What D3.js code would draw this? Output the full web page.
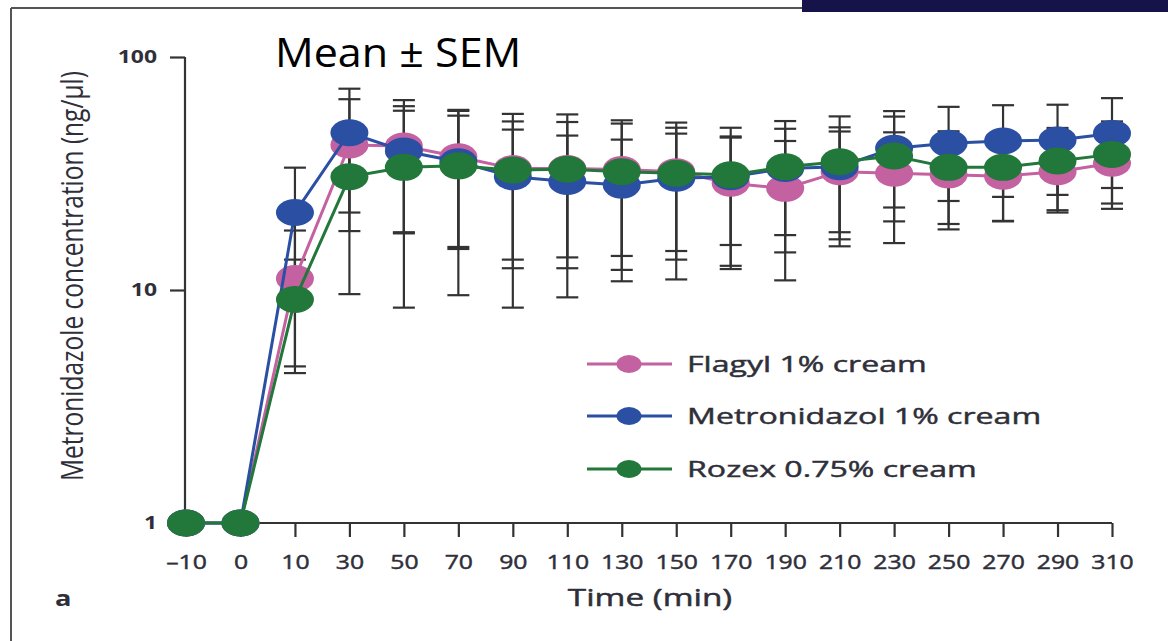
<!DOCTYPE html>
<html>
<head>
<meta charset="utf-8">
<script src="https://cdn.jsdelivr.net/npm/d3@7"></script>
<style>
  html, body { margin: 0; padding: 0; background: #fff; }
  svg { display: block; }
  text { font-family: "Open Sans", "Noto Sans", sans-serif; fill: #2f2f3a; }
  .medium { stroke: #2f2f3a; stroke-width: 0.45px; }
</style>
</head>
<body>
<svg id="chart" width="1168" height="641"></svg>
<script>
// Sampling times (min) – plotted as evenly spaced categories
const times = [-10, 0, 10, 30, 50, 70, 90, 110, 130, 150, 170, 190, 210, 230, 250, 270, 290, 310];

// Mean plasma metronidazole concentration (ng/µl)
const flagylMean = [1, 1, 11.2, 41.9, 41.5, 37.3, 33.2, 33.2, 32.9, 32.2, 28.7, 27.3, 32.2, 31.7, 31.2, 30.8, 32.2, 35.0];
const metroMean  = [1, 1, 21.5, 47.3, 39.5, 35.5, 30.6, 29.2, 28.2, 30.2, 30.6, 33.2, 33.8, 40.6, 42.6, 43.6, 44.0, 47.0];
const rozexMean  = [1, 1, 9.1, 30.6, 33.6, 34.1, 32.7, 33.0, 32.2, 31.7, 31.2, 33.8, 35.5, 37.6, 33.6, 33.6, 35.8, 38.2];

// Standard error of the mean
const flagylSem = [0, 0, 6.8, 24.0, 23.8, 22.0, 19.7, 19.4, 18.9, 17.5, 16.4, 16.3, 15.7, 15.8, 13.0, 11.1, 10.7, 12.7];
const metroSem  = [0, 0, 12.0, 25.8, 22.0, 20.5, 18.2, 16.8, 16.0, 16.7, 15.0, 16.0, 16.1, 18.0, 18.5, 18.5, 18.4, 19.6];
const rozexSem  = [0, 0, 4.4, 21.0, 25.2, 24.6, 24.3, 23.7, 21.3, 20.6, 18.5, 19.3, 20.1, 17.9, 14.4, 13.8, 13.8, 14.7];

const seriesNames = ["Flagyl 1% cream", "Metronidazol 1% cream", "Rozex 0.75% cream"];
const seriesColors = ["#c462a1", "#2a4fa3", "#22773a"];
const yTicks = [1, 10, 100];

const series = seriesNames.map((name, i) => ({
  name,
  color: seriesColors[i],
  mean: [flagylMean, metroMean, rozexMean][i],
  sem: [flagylSem, metroSem, rozexSem][i]
}));

const svg = d3.select("#chart");
const TEXT_STRETCH = 1.24;

// Outer frame and header bar
svg.append("line").attr("x1", 11).attr("x2", 11).attr("y1", 8).attr("y2", 641)
  .attr("stroke", "#555").attr("stroke-width", 2);
svg.append("line").attr("x1", 11).attr("x2", 802).attr("y1", 8).attr("y2", 8)
  .attr("stroke", "#555").attr("stroke-width", 2);
svg.append("rect").attr("x", 802).attr("y", 0).attr("width", 366).attr("height", 12)
  .attr("fill", "#16134a");

// Scales
const x = d3.scalePoint().domain(times).range([186, 1112]);
const y = d3.scaleLog().domain([1, 100]).range([523, 57]);

// Axes
const xAxis = svg.append("g").attr("transform", "translate(0,523)")
  .call(d3.axisBottom(x).tickSize(14).tickPadding(18).tickFormat(d => d < 0 ? "\u2013" + Math.abs(d) : d));
xAxis.select(".domain").attr("d", `M185,0H${x(310)}`);
xAxis.selectAll("line").attr("stroke", "#333").attr("stroke-width", 2.2);
xAxis.select(".domain").attr("stroke", "#333").attr("stroke-width", 2.2);
xAxis.selectAll("text").attr("class", "medium").attr("font-size", 20).attr("fill", "#2f2f3a")
  .attr("font-family", "'Open Sans', sans-serif")
  .attr("transform", `scale(${TEXT_STRETCH},1)`);

const yAxis = svg.append("g").attr("transform", "translate(185,0)")
  .call(d3.axisLeft(y).tickValues(yTicks).tickSize(15).tickPadding(12).tickFormat(d3.format("d")));
yAxis.select(".domain").attr("d", `M0,${y(100)}V${y(1)}`).attr("stroke", "#333").attr("stroke-width", 2.2);
yAxis.selectAll("line").attr("stroke", "#333").attr("stroke-width", 2.2);
yAxis.selectAll("text").attr("font-size", 18.5).attr("font-weight", 700).attr("fill", "#2f2f3a")
  .attr("font-family", "'Open Sans', sans-serif")
  .attr("transform", `scale(${TEXT_STRETCH},1)`)
  .attr("x", -28 / TEXT_STRETCH);

// Axis titles
svg.append("text").attr("class", "medium").attr("transform", "translate(650,606) scale(1.45,1)")
  .attr("text-anchor", "middle").attr("font-size", 23).text("Time (min)");
svg.append("text").attr("transform", `translate(83,276) rotate(-90) scale(1,${TEXT_STRETCH})`)
  .attr("text-anchor", "middle").attr("font-size", 24.5).text("Metronidazole concentration (ng/\u00b5l)");
svg.append("text").attr("transform", `translate(55,606) scale(${TEXT_STRETCH},1)`)
  .attr("font-size", 22).attr("font-weight", 700).text("a");

// Error bars (drawn beneath the markers)
const capHalf = 11;
const errG = svg.append("g").attr("stroke", "#333").attr("stroke-width", 2.2).attr("fill", "none");
series.forEach(s => {
  times.forEach((t, i) => {
    if (s.sem[i] <= 0) return;
    const cx = x(t);
    const hi = y(s.mean[i] + s.sem[i]);
    const lo = y(s.mean[i] - s.sem[i]);
    errG.append("line").attr("x1", cx).attr("x2", cx).attr("y1", hi).attr("y2", lo);
    errG.append("line").attr("x1", cx - capHalf).attr("x2", cx + capHalf).attr("y1", hi).attr("y2", hi);
    errG.append("line").attr("x1", cx - capHalf).attr("x2", cx + capHalf).attr("y1", lo).attr("y2", lo);
  });
});

// Series lines and markers
const line = d3.line().x((d, i) => x(times[i])).y(d => y(d));
series.forEach(s => {
  const g = svg.append("g");
  g.append("path").datum(s.mean).attr("d", line)
    .attr("fill", "none").attr("stroke", s.color).attr("stroke-width", 3);
  g.selectAll("ellipse").data(s.mean).join("ellipse")
    .attr("cx", (d, i) => x(times[i])).attr("cy", d => y(d))
    .attr("rx", 19).attr("ry", 13.5).attr("fill", s.color);
});

// Legend
const legendRows = [364, 416, 469];
const legend = svg.append("g");
series.forEach((s, i) => {
  const ly = legendRows[i];
  legend.append("line").attr("x1", 587).attr("x2", 672).attr("y1", ly).attr("y2", ly)
    .attr("stroke", s.color).attr("stroke-width", 3);
  legend.append("ellipse").attr("cx", 629).attr("cy", ly).attr("rx", 12.5).attr("ry", 9).attr("fill", s.color);
  legend.append("text").attr("class", "medium").attr("transform", `translate(687,${ly + 8}) scale(1.46,1)`)
    .attr("font-size", 22).text(s.name);
});

// Summary statistic note
svg.append("text").attr("transform", "translate(275,67) scale(1.05,1)")
  .attr("font-family", "Lato, 'Open Sans', sans-serif").attr("font-size", 41).attr("fill", "#000")
  .style("fill", "#000").text("Mean \u00b1 SEM");
</script>
</body>
</html>
